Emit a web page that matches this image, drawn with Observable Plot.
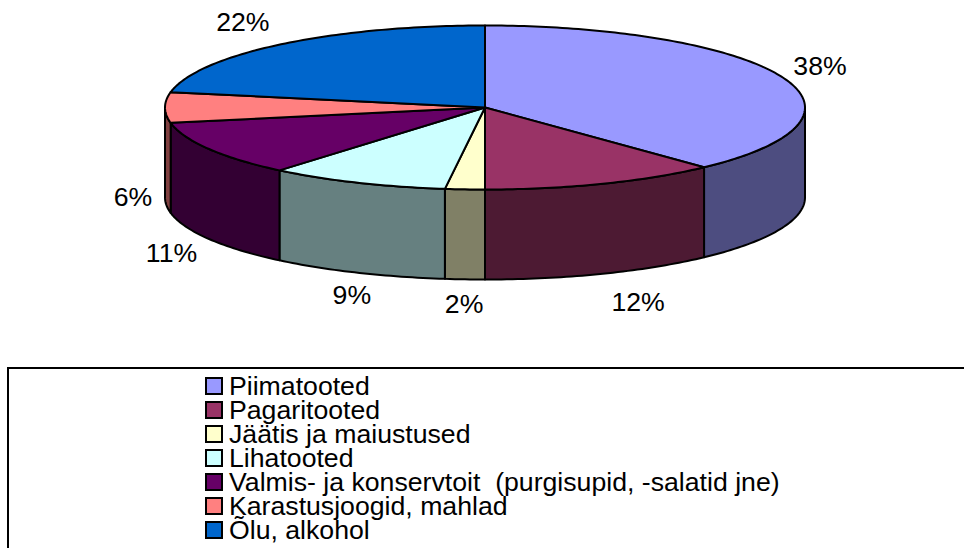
<!DOCTYPE html>
<html lang="et">
<head>
<meta charset="utf-8">
<title>Pie</title>
<script src="https://cdn.jsdelivr.net/npm/d3@7"></script>
<script src="https://cdn.jsdelivr.net/npm/@observablehq/plot@0.6"></script>
<style>
  html, body { margin: 0; padding: 0; background: #fff; }
  #page { position: relative; width: 964px; height: 548px; overflow: hidden; font-family: "Liberation Sans", Arial, sans-serif; }
  #chart { position: absolute; left: 0; top: 0; }
  #chart svg { display: block; background: transparent; }
  #legend { position: absolute; left: 7px; top: 367px; width: 957px; height: 181px; box-sizing: border-box;
            border-top: 2px solid #000; border-left: 2px solid #000; }
  .row { position: absolute; left: 196px; height: 24px; line-height: 24px; white-space: pre; font-size: 26.67px; color: #000; }
  .sw { position: absolute; left: 0; top: 3px; width: 18px; height: 18px; box-sizing: border-box; border: 2px solid #000; }
  .lb { position: absolute; left: 24px; top: 0; }
</style>
</head>
<body>
<div id="page"><div id="chart"></div><div id="legend"></div></div>
<script>
const categories = ["Piimatooted", "Pagaritooted", "Jäätis ja maiustused", "Lihatooted",
  "Valmis- ja konservtoit  (purgisupid, -salatid jne)", "Karastusjoogid, mahlad", "Õlu, alkohol"];
const shares = [38, 12, 2, 9.1, 10.9, 6, 22];
const topColors = ["#9999FF", "#993366", "#FFFFCC", "#CCFFFF", "#660066", "#FF8080", "#0066CC"];
const sideColors = ["#4D4D80", "#4D1A33", "#808066", "#668080", "#330033", "#804040", "#003366"];
const labelReachX = [1.126, 1.30, 1.04, 1.04, 1.136, 1.10, 1.187];
const labelReachY = [1.36, 1.38, 1.31, 1.30, 1.34, 1.33, 1.35];

const depth = 90 / 82;           // pie thickness, in y-scale units (one unit = the ellipse's semi-minor axis)
const total = d3.sum(shares);
const stops = d3.cumsum(shares).map(v => v / total * 360);
const slices = categories.map((name, i) => ({
  name, share: shares[i], from: i ? stops[i - 1] : 0, to: stops[i],
  top: topColors[i], side: sideColors[i], reachX: labelReachX[i], reachY: labelReachY[i]
}));

const rad = a => a * Math.PI / 180;
const rim = (a, drop = 0) => ({x: Math.sin(rad(a)), y: Math.cos(rad(a)) - drop});
const arc = (a0, a1) => {
  const n = Math.max(2, Math.ceil(Math.abs(a1 - a0)));
  return d3.range(n + 1).map(k => a0 + (a1 - a0) * k / n);
};

// Side walls: only the front half of the rim (90° to 270°) can be seen.
function wall(s) {
  const a0 = Math.max(s.from, 90), a1 = Math.min(s.to, 270);
  if (a1 <= a0) return null;
  const angles = arc(a0, a1);
  const pts = [...angles.map(a => rim(a)), ...angles.slice().reverse().map(a => rim(a, depth))];
  pts.push(pts[0]);
  return pts;
}
function wedge(s) {
  return [{x: 0, y: 0}, ...arc(s.from, s.to).map(a => rim(a)), {x: 0, y: 0}];
}
const labels = slices.map(s => {
  const mid = (s.from + s.to) / 2, c = Math.cos(rad(mid));
  return {
    text: Math.round(s.share) + "%",
    x: s.reachX * Math.sin(rad(mid)),
    y: s.reachY * c - (c < 0.01 ? depth : 0)
  };
});

const lineStyle = {x: "x", y: "y", stroke: "#000", strokeWidth: 2};
const chart = Plot.plot({
  width: 964, height: 548,
  margin: 0, marginTop: 0, marginRight: 0, marginBottom: 0, marginLeft: 0,
  x: {domain: [-1, 1], range: [164.5, 804.5], axis: null},
  y: {domain: [-1, 1], range: [189, 25], axis: null},
  marks: [
    ...slices.filter(wall).map(s => Plot.line(wall(s), {...lineStyle, fill: s.side})),
    ...slices.map(s => Plot.line(wedge(s), {...lineStyle, fill: s.top})),
    Plot.text(labels, {x: "x", y: "y", text: "text", fontSize: 26.67, fill: "#000",
      fontFamily: "Liberation Sans, Arial, sans-serif"})
  ]
});
document.getElementById("chart").appendChild(chart);

const legend = d3.select("#legend");
slices.forEach((s, i) => {
  const row = legend.append("div").attr("class", "row").style("top", (5 + i * 23.98) + "px");
  row.append("div").attr("class", "sw").style("background", s.top);
  row.append("div").attr("class", "lb").text(s.name);
});
</script>
</body>
</html>
